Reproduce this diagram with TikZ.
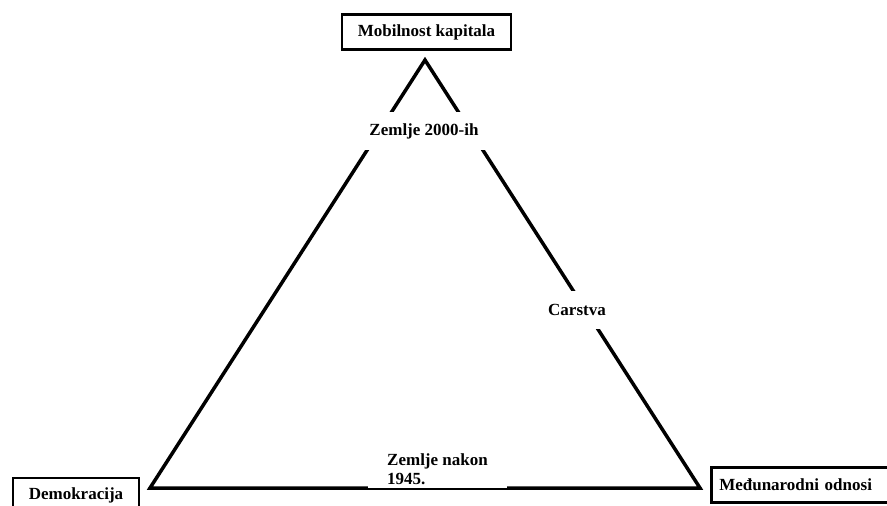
\documentclass[tikz,border=0pt]{standalone}
\usepackage{fontspec}
\setmainfont{Liberation Serif}

\begin{document}
\begin{tikzpicture}[x=1pt,y=-1pt,
	box/.style={shape=rectangle,draw=black,line width=2.5pt,fill=white,inner xsep=16pt,inner ysep=0pt,minimum height=35pt,font=\fontsize{17}{19}\selectfont\bfseries},
	lbl/.style={shape=rectangle,fill=white,inner xsep=19.5pt,minimum height=38pt,font=\fontsize{17}{19}\selectfont\bfseries}]
	\useasboundingbox (0,0) rectangle (887,506);

	\coordinate (apex) at (425,60);
	\coordinate (left) at (150,488);
	\coordinate (right) at (700,488);
	\draw[line width=3.5pt] (apex) -- (left) -- (right) -- cycle;

	\node[lbl] (zemlje2000) at (424,131) {Zemlje 2000-ih};
	\node[lbl] (carstva) at (577,310) {Carstva};
	\node[lbl,align=left] (zemlje1945) at (437.5,469) {Zemlje nakon\\1945.};

	\node[box] (mobilnost) at (426.5,32) {Mobilnost kapitala};
	\node[box] (demokracija) at (76,495.5) {Demokracija};
	\node[box,anchor=west,inner xsep=8pt,text width=190pt,align=left] (medunarodni) at (710,485) {Međunarodni odnosi};
\end{tikzpicture}
\end{document}
